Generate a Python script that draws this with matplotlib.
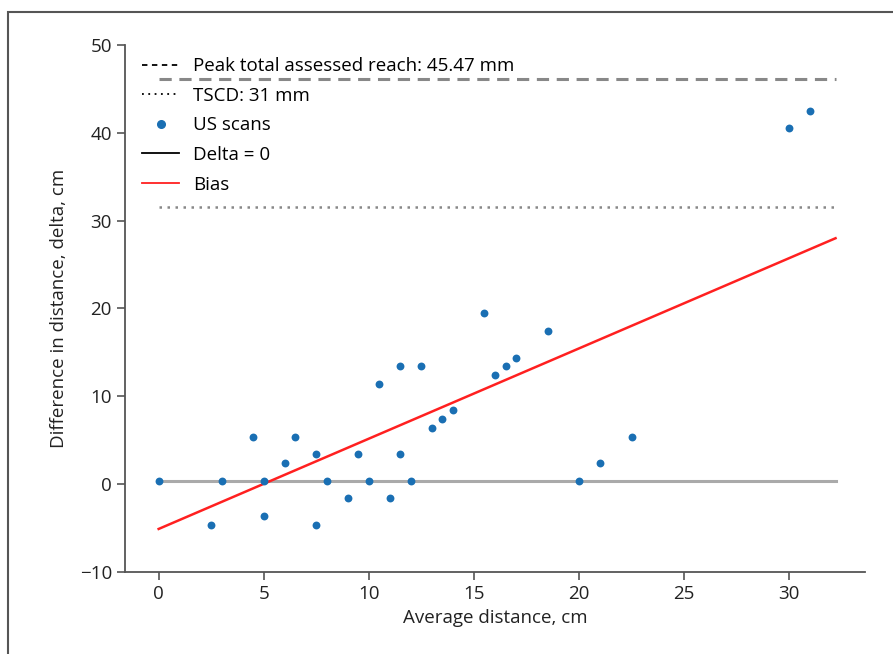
import matplotlib.pyplot as plt
from matplotlib.lines import Line2D
from matplotlib.patches import Rectangle

plt.rcParams['font.family'] = ['Open Sans', 'DejaVu Sans']

# US scans (average distance vs difference)
avg_dist = [0, 2.5, 3, 4.5, 5, 5, 6, 6.5, 7.5, 7.5, 8, 9, 9.5, 10, 10.5, 11,
            11.5, 11.5, 12, 12.5, 13, 13.5, 14, 15.5, 16, 16.5, 17, 18.5,
            20, 21, 22.5, 30, 31]
delta = [0.4, -4.6, 0.4, 5.4, 0.4, -3.6, 2.4, 5.4, 3.4, -4.6, 0.4, -1.6, 3.4,
         0.4, 11.4, -1.6, 3.4, 13.4, 0.4, 13.4, 6.4, 7.4, 8.4, 19.5, 12.4,
         13.4, 14.4, 17.4, 0.4, 2.4, 5.4, 40.6, 42.5]

# reference lines
line_x = [0, 32.2]
peak_reach = 46.1
tscd = 31.5
zero_line = 0.4
bias_ends = [-5.1, 28.0]

fig = plt.figure(figsize=(8.93, 6.54), dpi=100)
ax = fig.add_axes([0.140, 0.1254, 0.8286, 0.8058])

# frame around the figure
fig.patches.append(Rectangle((8 / 893, -0.1), 1.2, 1.1 - 12 / 654,
                             transform=fig.transFigure, fill=False,
                             edgecolor='#555555', linewidth=1.5))

ax.plot(line_x, [peak_reach, peak_reach], color='#888888', lw=2.2,
        linestyle=(0, (4, 2.5)))
ax.plot(line_x, [tscd, tscd], color='#888888', lw=1.8, linestyle=(0, (1, 2.2)))
ax.plot(line_x, [zero_line, zero_line], color='#aaaaaa', lw=2.2)
ax.plot(line_x, bias_ends, color='#ff2020', lw=1.8)
ax.scatter(avg_dist, delta, s=32, color='#1a6fb3', zorder=3, linewidths=0)

ax.set_xlim(-1.6, 33.6)
ax.set_ylim(-10, 50)
ax.set_xticks([0, 5, 10, 15, 20, 25, 30])
ax.set_yticks([-10, 0, 10, 20, 30, 40, 50])
ax.set_yticklabels(['\u221210', '0', '10', '20', '30', '40', '50'])
ax.spines['top'].set_visible(False)
ax.spines['right'].set_visible(False)
for s in ['left', 'bottom']:
    ax.spines[s].set_color('#555555')
    ax.spines[s].set_linewidth(1.3)
ax.tick_params(colors='#555555', labelcolor='#222222', labelsize=13.5,
               length=6, width=1.2)

ax.set_xlabel('Average distance, cm', fontsize=13.5, color='#222222', labelpad=4)
ax.set_ylabel('Difference in distance, delta, cm', fontsize=13.5,
              color='#222222', labelpad=8)

handles = [
    Line2D([], [], color='black', lw=1.3, linestyle=(0, (3, 2.5))),
    Line2D([], [], color='black', lw=1.3, linestyle=(0, (1, 2.5))),
    Line2D([], [], color='#1a6fb3', marker='o', markersize=5.5, linestyle='none'),
    Line2D([], [], color='black', lw=1.3),
    Line2D([], [], color='#ff2020', lw=1.3),
]
labels = ['Peak total assessed reach: 45.47 mm', 'TSCD: 31 mm', 'US scans',
          'Delta = 0', 'Bias']
ax.legend(handles, labels, loc='upper left', bbox_to_anchor=(0.0, 1.009),
          frameon=False, fontsize=13.5, handlelength=2.0, labelspacing=0.62,
          handletextpad=0.75)

fig.savefig('out.png', dpi=100)
